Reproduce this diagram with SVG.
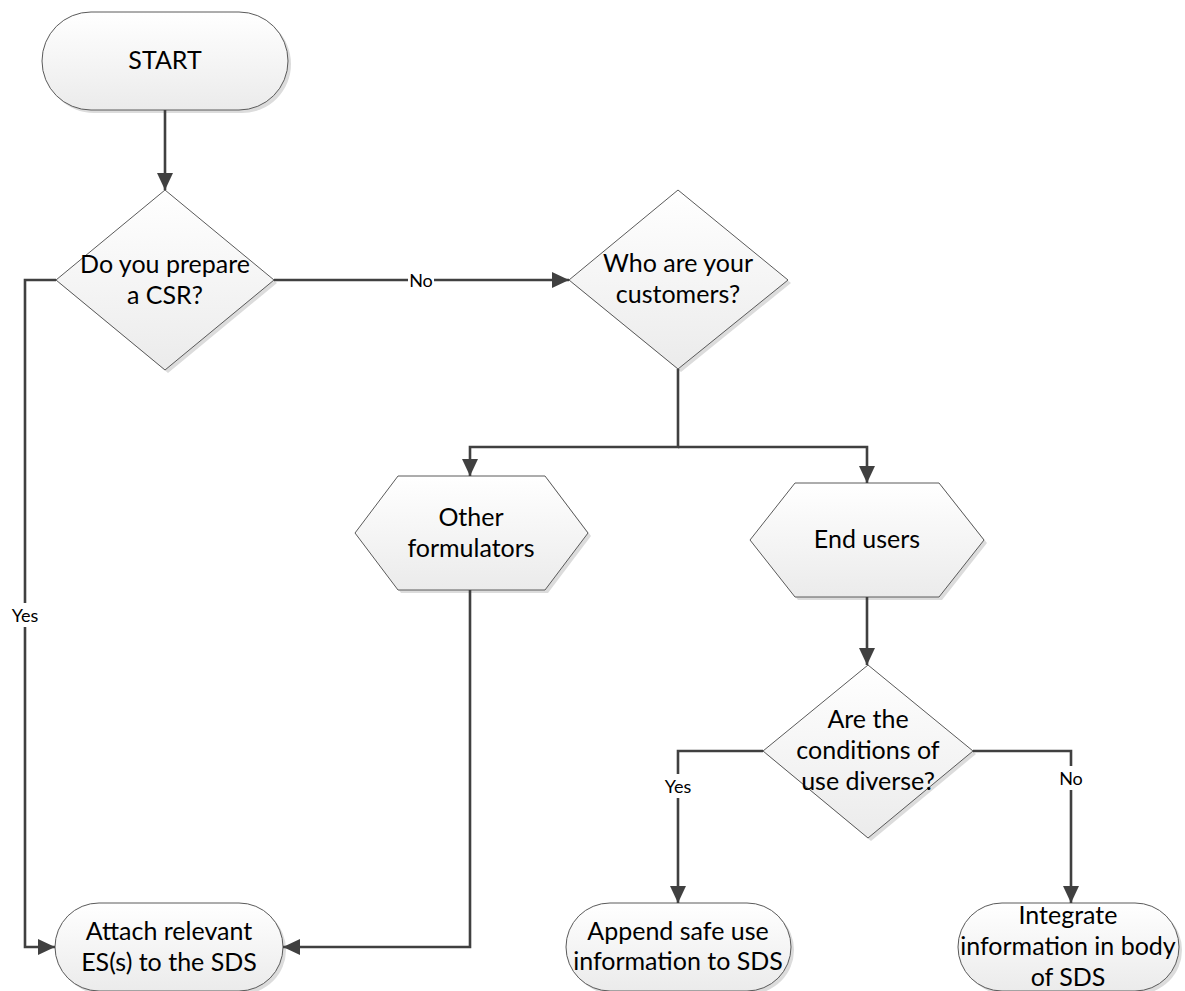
<svg xmlns="http://www.w3.org/2000/svg" xmlns:xlink="http://www.w3.org/1999/xlink" width="1185" height="991" viewBox="0 0 1185 991">
<style>
.shape{fill:url(#g);stroke:#5a5a5a;stroke-width:1}
.shadow{fill:#dcdcdc;stroke:none}
.t{font-family:Lato,"Open Sans","Liberation Sans",sans-serif;font-size:25px;fill:#000;text-anchor:middle}
.lbl{font-family:Lato,"Open Sans","Liberation Sans",sans-serif;font-size:18px;fill:#000;text-anchor:middle;dominant-baseline:central}
.c{fill:none;stroke:#404040;stroke-width:2.6}
.lb{fill:#fff;stroke:none}
</style>
<defs>
<linearGradient id="g" x1="0" y1="0" x2="0" y2="1">
<stop offset="0" stop-color="#ffffff"/>
<stop offset="1" stop-color="#ebebeb"/>
</linearGradient>
<marker id="ah" markerUnits="userSpaceOnUse" markerWidth="18" markerHeight="16" refX="17" refY="8" orient="auto">
<path d="M0,0 L17,8 L0,16 z" fill="#404040"/>
</marker>
</defs>
<rect width="1185" height="991" fill="#fff"/>

<g id="start">
<rect class="shadow" x="45" y="15" width="246" height="98" rx="49"/>
<rect class="shape" x="42" y="12" width="246" height="98" rx="49"/>
<text class="t" x="165" y="69">START</text>
</g>

<g id="q-csr">
<polygon class="shadow" points="168,193 277,283 168,373 59,283"/>
<polygon class="shape" points="165,190 274,280 165,370 56,280"/>
<text class="t" x="165" y="273">Do you prepare</text>
<text class="t" x="165" y="304">a CSR?</text>
</g>

<g id="q-customers">
<polygon class="shadow" points="681,193 791,283 681,372 572,283"/>
<polygon class="shape" points="678,190 788,280 678,369 569,280"/>
<text class="t" x="678" y="272">Who are your</text>
<text class="t" x="678" y="303">customers?</text>
</g>

<g id="other-formulators">
<polygon class="shadow" points="358,536 401,479 548,479 591,536 548,593 401,593"/>
<polygon class="shape" points="355,533 398,476 545,476 588,533 545,590 398,590"/>
<text class="t" x="471" y="526">Other</text>
<text class="t" x="471" y="557">formulators</text>
</g>

<g id="end-users">
<polygon class="shadow" points="753,543 798,486 942,486 987,543 942,600 798,600"/>
<polygon class="shape" points="750,540 795,483 939,483 984,540 939,597 795,597"/>
<text class="t" x="867" y="548">End users</text>
</g>

<g id="q-conditions">
<polygon class="shadow" points="871,668 976,754 871,841 766,754"/>
<polygon class="shape" points="868,665 973,751 868,838 763,751"/>
<text class="t" x="868" y="728">Are the</text>
<text class="t" x="868" y="759">conditions of</text>
<text class="t" x="868" y="790">use diverse?</text>
</g>

<g id="attach">
<rect class="shadow" x="58" y="906" width="228" height="88" rx="44"/>
<rect class="shape" x="55" y="903" width="228" height="88" rx="44"/>
<text class="t" x="169" y="940">Attach relevant</text>
<text class="t" x="169" y="971">ES(s) to the SDS</text>
</g>

<g id="append">
<rect class="shadow" x="569" y="906" width="225" height="88" rx="44"/>
<rect class="shape" x="566" y="903" width="225" height="88" rx="44"/>
<text class="t" x="678" y="940">Append safe use</text>
<text class="t" x="678" y="970">information to SDS</text>
</g>

<g id="integrate">
<rect class="shadow" x="961" y="906" width="221" height="88" rx="44"/>
<rect class="shape" x="958" y="903" width="221" height="88" rx="44"/>
<text class="t" x="1068" y="924">Integrate</text>
<text class="t" x="1068" y="955">information in body</text>
<text class="t" x="1068" y="986">of SDS</text>
</g>

<g id="connectors">
<path class="c" d="M165,110 V190" marker-end="url(#ah)"/>
<path class="c" d="M56,280 H25 V947 H55" marker-end="url(#ah)"/>
<path class="c" d="M274,280 H569" marker-end="url(#ah)"/>
<path class="c" d="M678,369 V447 H470 V476" marker-end="url(#ah)"/>
<path class="c" d="M678,447 H867 V483" marker-end="url(#ah)"/>
<path class="c" d="M470,590 V947 H283" marker-end="url(#ah)"/>
<path class="c" d="M867,597 V665" marker-end="url(#ah)"/>
<path class="c" d="M763,751 H678 V903" marker-end="url(#ah)"/>
<path class="c" d="M973,751 H1071 V903" marker-end="url(#ah)"/>
<rect class="lb" x="11" y="603" width="28" height="24"/>
<text class="lbl" x="25" y="615">Yes</text>
<rect class="lb" x="408" y="270" width="26" height="20"/>
<text class="lbl" x="421" y="280">No</text>
<rect class="lb" x="664" y="774" width="28" height="24"/>
<text class="lbl" x="678" y="786">Yes</text>
<rect class="lb" x="1058" y="766" width="26" height="24"/>
<text class="lbl" x="1071" y="778">No</text>
</g>
</svg>
